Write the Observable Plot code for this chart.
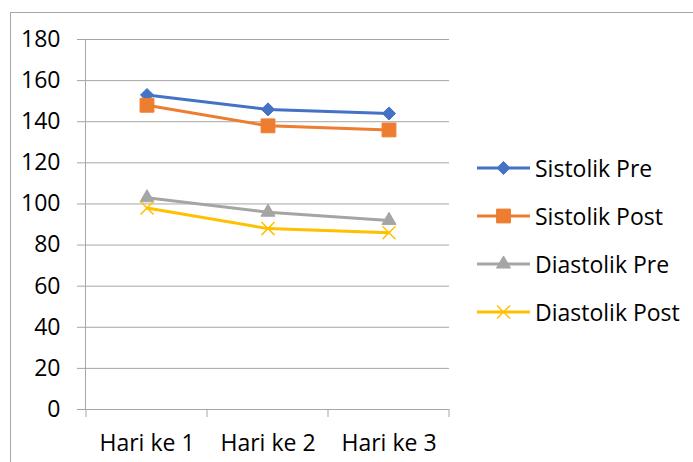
<!DOCTYPE html>
<html><head><meta charset="utf-8">
<script src="https://cdn.jsdelivr.net/npm/d3@7"></script>
<script src="https://cdn.jsdelivr.net/npm/@observablehq/plot@0.6"></script>
<style>
html,body{margin:0;padding:0;background:#fff;}
#wrap{position:relative;width:693px;height:462px;overflow:hidden;font-family:"Open Sans",sans-serif;}
#border{position:absolute;left:10px;top:12px;width:900px;height:700px;border-left:1px solid #a6a6a6;border-top:1px solid #a6a6a6;box-sizing:border-box;}
#chart{position:absolute;left:0;top:0;}
#legend{position:absolute;left:477px;top:144px;font-size:23px;color:#000;}
#legend .row{display:flex;align-items:center;height:48px;}
#legend svg{display:block;margin-right:5px;}
</style>
</head><body>
<div id="wrap"><div id="border"></div><div id="chart"></div><div id="legend"></div></div>
<script>
const categories = ["Hari ke 1", "Hari ke 2", "Hari ke 3"];
const seriesNames = ["Sistolik Pre", "Sistolik Post", "Diastolik Pre", "Diastolik Post"];
const sistolikPre = [153, 146, 144];
const sistolikPost = [148, 138, 136];
const diastolikPre = [103, 96, 92];
const diastolikPost = [98, 88, 86];
const yTicks = [0, 20, 40, 60, 80, 100, 120, 140, 160, 180];

const colors = ["#4472C4", "#ED7D31", "#A5A5A5", "#FFC000"];
const symbols = ["diamond2", "square", "triangle", "times"];
const radii = [5.9, 7.8, 5.2, 6.0];

const seriesValues = [sistolikPre, sistolikPost, diastolikPre, diastolikPost];
const data = [];
seriesNames.forEach((s, i) => categories.forEach((c, j) => data.push({series: s, cat: c, value: seriesValues[i][j], idx: i})));

const gridColor = "#a6a6a6";

function edgeTicks(index, scales, values, dimensions) {
  const g = d3.create("svg:g");
  const xs = categories.map(c => scales.x(c));
  xs.push(dimensions.width - dimensions.marginRight);
  const y0 = scales.y(0);
  g.selectAll("line").data(xs).join("line")
    .attr("x1", d => d).attr("x2", d => d)
    .attr("y1", y0).attr("y2", y0 + 8)
    .attr("stroke", gridColor).attr("stroke-width", 1);
  return g.node();
}

const marks = [
  Plot.ruleY(yTicks, {y: d => d, stroke: gridColor, strokeWidth: 1, insetLeft: -8}),
  Plot.frame({anchor: "left", stroke: gridColor}),
  edgeTicks,
  Plot.axisY(yTicks, {tickSize: 0, tickPadding: 25, fill: "#000"}),
  Plot.axisX({tickSize: 0, tickPadding: 25, fill: "#000"}),
  Plot.line(data, {x: "cat", y: "value", z: "series", stroke: "series", strokeWidth: 3, strokeLinejoin: "round", strokeLinecap: "round"})
];
seriesNames.forEach((s, i) => {
  const d = data.filter(r => r.series === s);
  if (symbols[i] === "times") {
    marks.push(Plot.dot(d, {x: "cat", y: "value", symbol: "times", r: radii[i], stroke: colors[i], strokeWidth: 1.5, fill: "none"}));
  } else {
    marks.push(Plot.dot(d, {x: "cat", y: "value", symbol: symbols[i], r: radii[i], fill: colors[i], stroke: colors[i], strokeWidth: 1}));
  }
});

const chart = Plot.plot({
  width: 693, height: 462,
  marginLeft: 85, marginRight: 244, marginTop: 39, marginBottom: 53,
  style: {fontFamily: "'Open Sans', sans-serif", fontSize: "23px", color: "#000", background: "transparent", overflow: "visible"},
  x: {type: "band", domain: categories, padding: 0, label: null, axis: null},
  y: {domain: [0, 180], label: null, axis: null},
  color: {domain: seriesNames, range: colors},
  marks
});
document.getElementById("chart").appendChild(chart);

const legend = d3.select("#legend");
seriesNames.forEach((s, i) => {
  const row = legend.append("div").attr("class", "row");
  const svg = row.append("svg").attr("width", 53).attr("height", 20);
  svg.append("line").attr("x1", 0).attr("x2", 53).attr("y1", 10).attr("y2", 10)
    .attr("stroke", colors[i]).attr("stroke-width", 3);
  const sym = {diamond2: d3.symbolDiamond2, square: d3.symbolSquare, triangle: d3.symbolTriangle, times: d3.symbolTimes}[symbols[i]];
  const p = svg.append("path").attr("transform", "translate(26.5,10)")
    .attr("d", d3.symbol(sym, Math.PI * radii[i] * radii[i])());
  if (symbols[i] === "times") p.attr("fill", "none").attr("stroke", colors[i]).attr("stroke-width", 1.5);
  else p.attr("fill", colors[i]).attr("stroke", colors[i]);
  row.append("span").text(s);
});
</script>
</body></html>
